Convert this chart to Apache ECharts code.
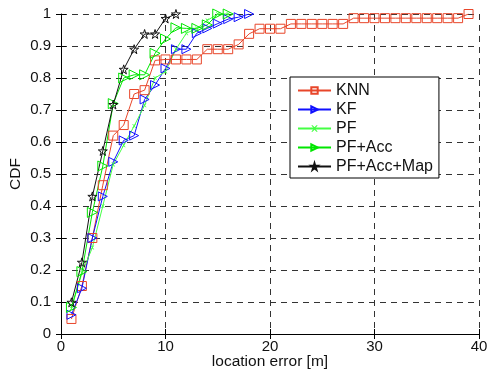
<!DOCTYPE html>
<html>
<head>
<meta charset="utf-8">
<script src="https://cdn.jsdelivr.net/npm/echarts@6/dist/echarts.min.js"></script>
<style>
  html, body { margin: 0; padding: 0; background: #fff; }
  #chart { width: 495px; height: 372px; }
</style>
</head>
<body>
<div id="chart"></div>
<script>
// CDF values, sampled at location error = 1, 2, 3, ... m
const knn = [0.047, 0.15, 0.30, 0.465, 0.62, 0.653, 0.75, 0.762, 0.855, 0.858,
  0.858, 0.858, 0.858, 0.89, 0.89, 0.89, 0.905, 0.938, 0.954, 0.954,
  0.954, 0.969, 0.969, 0.969, 0.969, 0.969, 0.969, 0.987, 0.987, 0.987,
  0.987, 0.987, 0.987, 0.987, 0.987, 0.987, 0.987, 0.987, 1.0];
const kf = [0.06, 0.143, 0.30, 0.43, 0.538, 0.605, 0.62, 0.733, 0.778, 0.83,
  0.89, 0.89, 0.94, 0.955, 0.97, 0.984, 0.99, 1.0];
const pf = [0.08, 0.19, 0.27, 0.40, 0.53, 0.59, 0.65, 0.715, 0.80, 0.82,
  0.89, 0.94, 0.955, 0.98, 1.0, 1.0];
const pfAcc = [0.083, 0.195, 0.38, 0.525, 0.72, 0.80, 0.81, 0.81, 0.877, 0.922,
  0.957, 0.955, 0.955, 0.966, 1.0, 1.0];
const pfAccMap = [0.099, 0.224, 0.43, 0.572, 0.717, 0.827, 0.89, 0.9375, 0.9375, 0.986, 1.0];

const xTicks = [0, 10, 20, 30, 40];
const yTicks = [0, 0.1, 0.2, 0.3, 0.4, 0.5, 0.6, 0.7, 0.8, 0.9, 1];

const FONT = "'Liberation Sans', Arial, sans-serif";
const STAR = 'path://M50,0L61,35L98,35L68,57L79,91L50,70L21,91L32,57L2,35L39,35Z';
const CROSS = 'path://M0,0L2,0L5,3L8,0L10,0L6,5L10,10L8,10L5,7L2,10L0,10L4,5Z';

const toPoints = arr => arr.map((v, i) => [i + 1, v]);

function mkSeries(name, arr, color, symbol, size, rotate, hollow) {
  return {
    name: name,
    type: 'line',
    data: toPoints(arr),
    symbol: symbol,
    symbolSize: size,
    symbolRotate: rotate,
    showAllSymbol: true,
    animation: false,
    lineStyle: { color: color, width: 1 },
    itemStyle: hollow
      ? { color: 'rgba(255,255,255,0)', borderColor: color, borderWidth: 1 }
      : { color: color, borderColor: color, borderWidth: 0 },
    emphasis: { disabled: true }
  };
}

const chart = echarts.init(document.getElementById('chart'));

const dashed = { show: true, lineStyle: { color: '#333', type: [6, 5], width: 1 } };
const tickStyle = { color: '#111', fontFamily: FONT, fontSize: 15 };
const nameStyle = { color: '#111', fontFamily: FONT, fontSize: 15.5 };

chart.setOption({
  backgroundColor: '#fff',
  animation: false,
  textStyle: { fontFamily: FONT },
  grid: { left: 61, top: 14, width: 418, height: 320, containLabel: false, outerBoundsMode: 'none' },
  legend: {
    orient: 'vertical',
    left: 290,
    top: 77,
    padding: [4, 6, 2, 7],
    itemWidth: 33,
    itemHeight: 8,
    itemGap: 0,
    backgroundColor: '#fff',
    borderColor: '#000',
    borderWidth: 1,
    borderRadius: 0,
    textStyle: { color: '#111', fontFamily: FONT, fontSize: 16, lineHeight: 19 },
    data: ['KNN', 'KF', 'PF', 'PF+Acc', 'PF+Acc+Map']
  },
  xAxis: [{
    type: 'value',
    min: xTicks[0],
    max: xTicks[xTicks.length - 1],
    interval: 10,
    name: 'location error [m]',
    nameLocation: 'middle',
    nameGap: 20,
    nameMoveOverlap: false,
    nameTextStyle: nameStyle,
    axisLine: { show: true, onZero: false, lineStyle: { color: '#000', width: 1 } },
    axisTick: { show: true, inside: true, length: 5, lineStyle: { color: '#000' } },
    axisLabel: Object.assign({ margin: 5 }, tickStyle),
    splitLine: dashed
  }, {
    type: 'value',
    position: 'top',
    min: xTicks[0],
    max: xTicks[xTicks.length - 1],
    interval: 10,
    axisLine: { show: false },
    axisTick: { show: true, inside: true, length: 5, lineStyle: { color: '#000' } },
    axisLabel: { show: false },
    splitLine: { show: false }
  }],
  yAxis: [{
    type: 'value',
    min: yTicks[0],
    max: yTicks[yTicks.length - 1],
    interval: 0.1,
    name: 'CDF',
    nameLocation: 'middle',
    nameRotate: 90,
    nameGap: 37,
    nameMoveOverlap: false,
    nameTextStyle: nameStyle,
    axisLine: { show: true, onZero: false, lineStyle: { color: '#000', width: 1 } },
    axisTick: { show: true, inside: true, length: 5, lineStyle: { color: '#000' } },
    axisLabel: Object.assign({ margin: 10, formatter: v => String(Math.round(v * 10) / 10) }, tickStyle),
    splitLine: dashed
  }, {
    type: 'value',
    position: 'right',
    min: yTicks[0],
    max: yTicks[yTicks.length - 1],
    interval: 0.1,
    axisLine: { show: false },
    axisTick: { show: true, inside: true, length: 5, lineStyle: { color: '#000' } },
    axisLabel: { show: false },
    splitLine: { show: false }
  }],
  series: [
    mkSeries('KNN', knn, '#e8462a', 'rect', 9, 0, true),
    mkSeries('KF', kf, '#1010ff', 'triangle', 9, -90, true),
    mkSeries('PF', pf, '#44ff44', CROSS, 4, 0, false),
    mkSeries('PF+Acc', pfAcc, '#00e600', 'triangle', 10, -90, true),
    mkSeries('PF+Acc+Map', pfAccMap, '#111111', STAR, 9, 0, true)
  ]
});
</script>
</body>
</html>
